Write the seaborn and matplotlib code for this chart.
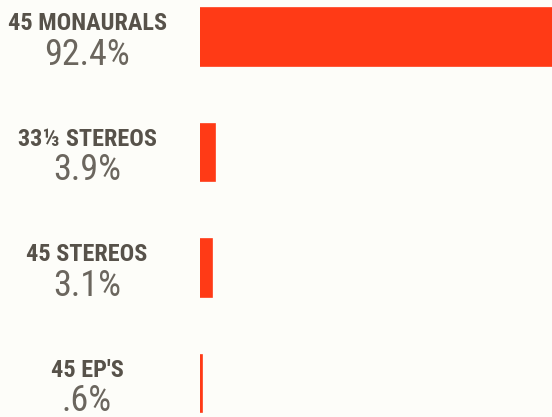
import seaborn as sns
import matplotlib.pyplot as plt
import matplotlib.transforms as mtransforms
from matplotlib import font_manager
import pandas as pd

categories = ["45 MONAURALS", "33\u2153 STEREOS", "45 STEREOS", "45 EP'S"]
shares = [92.4, 3.9, 3.1, 0.6]
share_labels = ["92.4%", "3.9%", "3.1%", ".6%"]

df = pd.DataFrame({"category": categories, "share": shares})

# pick a narrow face if one is installed
names = {f.name for f in font_manager.fontManager.ttflist}
narrow = "DejaVu Sans"
for cand in ["Roboto Condensed", "Liberation Sans Narrow", "DejaVu Sans Condensed", "Open Sans Condensed"]:
    if cand in names:
        narrow = cand
        break

sns.set_style("white")
plt.rcParams['font.family'] = [narrow, 'DejaVu Sans']

bg = "#fdfdf9"
red = "#ff3a16"

fig = plt.figure(figsize=(5.52, 4.17), dpi=100, facecolor=bg)
ax = fig.add_axes([200 / 552, 0, 352 / 552, 1])
ax.set_facecolor(bg)

sns.barplot(data=df, x="share", y="category", orient="h", color=red,
            saturation=1, width=0.5, edgecolor=red, linewidth=1.2, ax=ax)

ax.set_xlim(0, 92.4)
ax.set_ylim(3.29, -0.32)
ax.axis("off")

trans = mtransforms.blended_transform_factory(fig.transFigure, ax.transData)
for i, (cat, lab) in enumerate(zip(categories, share_labels)):
    ax.text(87 / 552, i - 0.06, cat, transform=trans, ha="center", va="baseline",
            fontsize=17.5, fontweight="bold", color="#57524a", fontstretch="condensed")
    ax.text(87 / 552, i + 0.24, lab, transform=trans, ha="center", va="baseline",
            fontsize=26, color="#6b665e", fontstretch="condensed")

fig.savefig("out.png", dpi=100, facecolor=fig.get_facecolor())
